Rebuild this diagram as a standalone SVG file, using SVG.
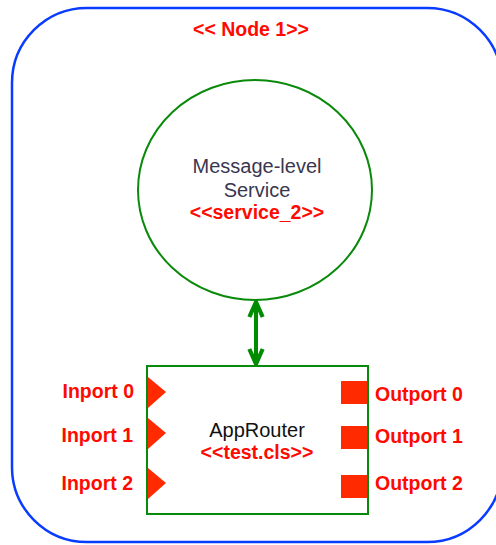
<svg xmlns="http://www.w3.org/2000/svg" width="496" height="545" viewBox="0 0 496 545">
<defs>
<style>
.lbl{font-family:"Liberation Sans",Arial,sans-serif;font-size:19.5px;font-weight:bold;fill:#ff0a00}
.txt{font-family:"Liberation Sans",Arial,sans-serif;font-size:20px;fill:#3a3650}
.blk{font-family:"Liberation Sans",Arial,sans-serif;font-size:20px;fill:#111}
.port{fill:#ff2a00}
</style>
<marker id="chev" viewBox="0 0 12 12" refX="10" refY="6" markerWidth="5" markerHeight="5" markerUnits="strokeWidth" orient="auto-start-reverse">
<path d="M1,2 L10,6 L1,10" fill="none" stroke="#008c00" stroke-width="2.5"/>
</marker>
</defs>
<g id="node1">
<rect x="12" y="8" width="490" height="534" rx="75" ry="75" fill="#fff" stroke="#0a3cff" stroke-width="2.5"/>
<text class="lbl" x="251" y="36" text-anchor="middle">&lt;&lt; Node 1&gt;&gt;</text>
</g>
<g id="service">
<ellipse cx="255" cy="190" rx="117" ry="110" fill="#fff" stroke="#0a8a0a" stroke-width="2"/>
<text class="txt" x="257" y="173" text-anchor="middle">Message-level</text>
<text class="txt" x="257" y="197" text-anchor="middle">Service</text>
<text class="lbl" x="257" y="219" text-anchor="middle">&lt;&lt;service_2&gt;&gt;</text>
</g>
<g id="approuter">
<rect x="147" y="366" width="221" height="148" fill="#fff" stroke="#0a8a0a" stroke-width="2"/>
<text class="blk" x="257" y="437" text-anchor="middle">AppRouter</text>
<text class="lbl" x="257" y="459" text-anchor="middle">&lt;&lt;test.cls&gt;&gt;</text>
<polygon class="port" points="148,377 166,392 148,408"/>
<polygon class="port" points="148,418 166,433 148,449"/>
<polygon class="port" points="148,468 166,483 148,499"/>
<rect class="port" x="341" y="381" width="26" height="23"/>
<rect class="port" x="341" y="426" width="26" height="23"/>
<rect class="port" x="341" y="475" width="26" height="23"/>
<text class="lbl" x="134" y="398" text-anchor="end">Inport 0</text>
<text class="lbl" x="133" y="442" text-anchor="end">Inport 1</text>
<text class="lbl" x="133" y="490" text-anchor="end">Inport 2</text>
<text class="lbl" x="375" y="401">Outport 0</text>
<text class="lbl" x="375" y="443">Outport 1</text>
<text class="lbl" x="375" y="490">Outport 2</text>
</g>
<g id="connectors">
<line x1="256" y1="302" x2="256" y2="364" stroke="#008c00" stroke-width="4" marker-start="url(#chev)" marker-end="url(#chev)"/>
</g>
</svg>
